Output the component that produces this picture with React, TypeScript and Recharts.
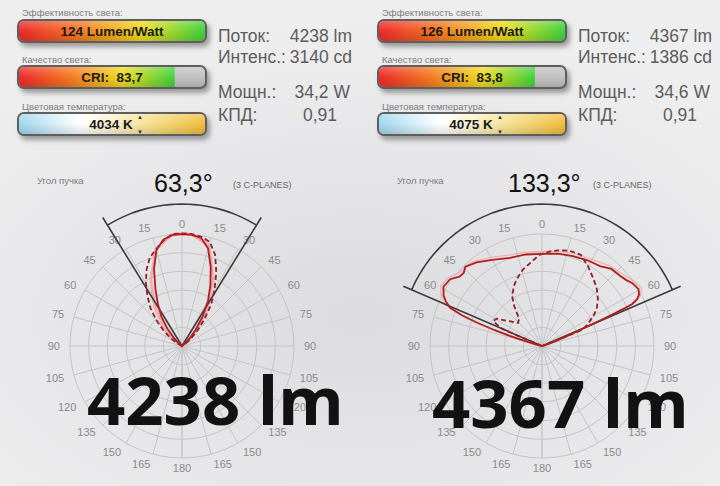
import React from "react";
import {
  RadarChart,
  Radar,
  PolarGrid,
  PolarAngleAxis,
  PolarRadiusAxis,
  BarChart,
  Bar,
  XAxis,
  YAxis,
} from "recharts";

// report values: [left luminaire, right luminaire]
const beamAngle = [63.3, 133.3];
const fluxLm = [4238, 4367];
const maxIntensityCd = [3140, 1386];
const powerW = [34.2, 34.6];
const lorValue = [0.91, 0.91];
const efficacyLmW = [124, 126];
const criValue = [83.7, 83.8];
const cctK = [4034, 4075];

// candela per grid ring (6 rings on each diagram)
const ringCd = [520, 225];

// light distribution, angle in degrees (0 = top, + = clockwise), intensity in cd
const leftSolidAngle = [-60, -50, -45, -40, -35, -30, -25, -20, -15, -10, -5, 0, 5, 10, 15, 20, 25, 30, 35, 40, 45, 50, 60];
const leftSolidCd = [0, 140, 330, 640, 1000, 1340, 1750, 2280, 2760, 3010, 3100, 3120, 3110, 3060, 2810, 2340, 1870, 1450, 1000, 590, 310, 110, 0];

const leftDashedAngle = [-70, -60, -55, -50, -45, -40, -35, -30, -25, -20, -15, -10, -5, 0, 5, 10, 15, 20, 25, 30, 35, 40, 45, 50, 55, 60];
const leftDashedCd = [0, 170, 390, 670, 1000, 1360, 1670, 2010, 2340, 2620, 2790, 2980, 3130, 3140, 3130, 3090, 3000, 2700, 2260, 1810, 1420, 970, 610, 330, 140, 0];

const leftPinkAngle = [-65, -55, -45, -35, -25, -15, -5, 0, 5, 15, 25, 35, 45, 55, 65];
const leftPinkCd = [0, 280, 700, 1330, 2060, 2790, 3120, 3130, 3120, 2900, 2060, 1220, 470, 120, 0];

const rightSolidAngle = [-85, -77, -74, -72.6, -71.5, -70.3, -69, -67.4, -65, -63, -59, -54, -50, -47, -44, -38, -30, -20, -10, 0, 10, 19, 28, 36, 42, 48, 52, 55, 59.5, 62, 63.7, 65, 65.5, 66, 66.5, 67, 68, 70, 74, 80];
const rightSolidCd = [0, 70, 220, 400, 600, 830, 1040, 1200, 1280, 1330, 1386, 1370, 1300, 1290, 1330, 1280, 1200, 1130, 1120, 1110, 1130, 1145, 1170, 1190, 1250, 1265, 1290, 1325, 1350, 1325, 1280, 1200, 1085, 900, 720, 540, 360, 180, 60, 0];

const rightDashedAngle = [-68, -67.5, -67, -66.5, -63, -59, -52, -46, -40, -35, -31, -25, -20, -14, -8, -2, 0, 5, 10, 16, 23, 30, 36, 43, 50, 56, 60, 65, 68, 68.5, 69, 70];
const rightDashedCd = [0, 180, 360, 540, 660, 640, 480, 400, 430, 580, 700, 800, 870, 950, 1010, 1095, 1110, 1145, 1170, 1195, 1195, 1110, 1035, 965, 880, 795, 710, 600, 530, 300, 120, 0];

const rightPinkAngle = [-80, -72, -70, -67, -63, -59, -54, -48, -40, -30, -20, -10, 0, 10, 20, 30, 40, 48, 55, 60, 63, 65, 66, 67, 70, 76];
const rightPinkCd = [0, 560, 950, 1260, 1370, 1420, 1400, 1330, 1320, 1235, 1165, 1150, 1140, 1160, 1180, 1205, 1265, 1300, 1360, 1390, 1330, 1240, 930, 560, 190, 0];

const FONT = "'Liberation Sans', Arial, sans-serif";

const toRows = (angles: number[], cd: number[], ring: number) =>
  angles.map((a, i) => ({ angle: a, v: cd[i] / ring }));

// beam angle wedge: two lines from the centre and an arc between them
function buildWedge(beam: number) {
  const half = beam / 2;
  const rows = [
    { angle: 0, v: 0 },
    { angle: half, v: 1 },
    { angle: half, v: 0.94 },
  ];
  for (let a = Math.floor(half / 2.5) * 2.5; a > -half; a -= 2.5) {
    if (a < half) rows.push({ angle: a, v: 0.94 });
  }
  rows.push({ angle: -half, v: 0.94 }, { angle: -half, v: 1 });
  return rows;
}

const fmt = (v: number, d: number) => v.toFixed(d).replace(".", ",");

const renderAngleTick = (p: any) => (
  <text
    x={p.x}
    y={p.y}
    textAnchor={p.textAnchor}
    dominantBaseline="central"
    fontSize={11}
    fontFamily={FONT}
    fill="#8a8a8a"
  >
    {Math.abs(Number(p.payload.value))}
  </text>
);

const CX = 182;
const CY = 346;

type LayerProps = {
  left: number;
  data: { angle: number; v: number }[];
  grid?: boolean;
  outer?: number;
  domainMax?: number;
  stroke: string;
  strokeWidth: number;
  dash?: string;
  opacity?: number;
};

function PolarLayer({ left, data, grid, outer = 112, domainMax = 6, stroke, strokeWidth, dash, opacity = 1 }: LayerProps) {
  return (
    <div style={{ position: "absolute", left, top: 0 }}>
      <RadarChart
        width={360}
        height={486}
        cx={CX}
        cy={CY}
        outerRadius={outer}
        startAngle={270}
        endAngle={-90}
        data={data}
        margin={{ top: 0, right: 0, bottom: 0, left: 0 }}
      >
        {grid && <PolarGrid gridType="circle" stroke="#c4c4c6" strokeWidth={1} />}
        <PolarAngleAxis
          dataKey="angle"
          type="number"
          domain={[-180, 180]}
          allowDataOverflow
          tickCount={25}
          axisLine={false}
          tickLine={false}
          tickSize={10}
          tick={grid ? renderAngleTick : false}
        />
        <PolarRadiusAxis domain={[0, domainMax]} allowDataOverflow tickCount={domainMax + 1} tick={false} axisLine={false} />
        <Radar
          dataKey="v"
          stroke={stroke}
          strokeWidth={strokeWidth}
          strokeDasharray={dash}
          strokeOpacity={opacity}
          fill="none"
          dot={false}
          isAnimationActive={false}
        />
      </RadarChart>
    </div>
  );
}

const effStops = ["#ec2b2b", "#f47a22", "#eedc1e", "#3fd13f"];
const cctStops = ["#9ed6ef", "#ffffff", "#f6e39a", "#f0bd3a"];

function Gauge({
  id,
  value,
  domain,
  stops,
  x,
  y,
}: {
  id: string;
  value: number;
  domain: [number, number | string];
  stops: string[];
  x: number;
  y: number;
}) {
  return (
    <div
      style={{
        position: "absolute",
        left: x,
        top: y,
        width: 190,
        height: 24,
        boxSizing: "border-box",
        border: "2px solid #5e5e5e",
        borderRadius: 7,
        overflow: "hidden",
        background: "#c2c2c2",
        boxShadow: "3px 4px 5px rgba(0,0,0,0.35)",
      }}
    >
      <BarChart
        width={186}
        height={20}
        layout="vertical"
        data={[{ name: id, value }]}
        margin={{ top: 0, right: 0, bottom: 0, left: 0 }}
        barCategoryGap={0}
      >
        <defs>
          <linearGradient id={id} x1="0" y1="0" x2="1" y2="0">
            {stops.map((c, i) => (
              <stop key={i} offset={`${(i / (stops.length - 1)) * 100}%`} stopColor={c} />
            ))}
          </linearGradient>
        </defs>
        <XAxis type="number" domain={domain} hide />
        <YAxis type="category" dataKey="name" hide />
        <Bar dataKey="value" fill={`url(#${id})`} isAnimationActive={false} />
      </BarChart>
      <div
        style={{
          position: "absolute",
          inset: 0,
          background: "linear-gradient(rgba(255,255,255,0.25), rgba(255,255,255,0) 50%, rgba(0,0,0,0.12))",
        }}
      />
    </div>
  );
}

function PanelText({ i, dx }: { i: number; dx: number }) {
  const big = [
    { x: 87, y: 425 },
    { x: 72, y: 428 },
  ][i];
  const title = [154, 148][i];
  const small = { fontSize: 9.5, fill: "#7c7c7c", fontFamily: FONT };
  const info = { fontSize: 17.5, fill: "#5c5c5c", fontFamily: FONT };
  return (
    <g transform={`translate(${dx},0)`}>
      <text x={22} y={15.5} {...small}>Эффективность света:</text>
      <text x={22} y={62.5} {...small}>Качество света:</text>
      <text x={22} y={109.5} {...small}>Цветовая температура:</text>

      <text x={218} y={42} {...info}>Поток:</text>
      <text x={352} y={42} {...info} textAnchor="end">{`${fluxLm[i]} lm`}</text>
      <text x={218} y={63} {...info}>Интенс.:</text>
      <text x={352} y={63} {...info} textAnchor="end">{`${maxIntensityCd[i]} cd`}</text>
      <text x={218} y={98} {...info}>Мощн.:</text>
      <text x={350} y={98} {...info} textAnchor="end">{`${fmt(powerW[i], 1)} W`}</text>
      <text x={218} y={121} {...info}>КПД:</text>
      <text x={337} y={121} {...info} textAnchor="end">{fmt(lorValue[i], 2)}</text>

      <text x={37} y={184} {...small}>Угол пучка</text>
      <text x={title} y={192} fontSize={25} fill="#111" fontFamily={FONT}>{`${fmt(beamAngle[i], 1)}°`}</text>
      <text x={233} y={188} fontSize={9} fill="#666" fontFamily={FONT}>(3 C-PLANES)</text>

      <text
        x={big.x}
        y={big.y}
        fontSize={67}
        fontWeight={700}
        fill="#121212"
        fontFamily="'Open Sans', sans-serif"
      >
        {`${fluxLm[i]} lm`}
      </text>
    </g>
  );
}

function BarLabels({ i, dx }: { i: number; dx: number }) {
  const inBar = { fontSize: 13.5, fontWeight: 700, fill: "#1a1a1a", fontFamily: FONT, textAnchor: "middle" as const };
  return (
    <g transform={`translate(${dx},0)`}>
      <text x={112} y={36} {...inBar}>{`${efficacyLmW[i]} Lumen/Watt`}</text>
      <text x={112} y={82} {...inBar} xmlSpace="preserve">{`CRI:  ${fmt(criValue[i], 1)}`}</text>
      <text x={111} y={129} {...inBar}>{`${cctK[i]} K`}</text>
      <text x={140} y={119} fontSize={6} fill="#333" textAnchor="middle">▲</text>
      <text x={140} y={134} fontSize={6} fill="#333" textAnchor="middle">▼</text>
    </g>
  );
}

const panels = [
  {
    left: 0,
    pinkWidth: 3,
    pink: toRows(leftPinkAngle, leftPinkCd, ringCd[0]),
    dashed: toRows(leftDashedAngle, leftDashedCd, ringCd[0]),
    solid: toRows(leftSolidAngle, leftSolidCd, ringCd[0]),
    wedge: buildWedge(beamAngle[0]),
  },
  {
    left: 360,
    pinkWidth: 1.2,
    pink: toRows(rightPinkAngle, rightPinkCd, ringCd[1]),
    dashed: toRows(rightDashedAngle, rightDashedCd, ringCd[1]),
    solid: toRows(rightSolidAngle, rightSolidCd, ringCd[1]),
    wedge: buildWedge(beamAngle[1]),
  },
];

export default function App() {
  return (
    <div
      style={{
        position: "absolute",
        left: 0,
        top: 0,
        width: 720,
        height: 486,
        overflow: "hidden",
        fontFamily: FONT,
        background:
          "radial-gradient(ellipse 70% 60% at 50% 65%, #dcdcdf 0%, #e6e6e8 55%, #eeeeef 100%)",
      }}
    >
      {panels.map((p, i) => (
        <React.Fragment key={i}>
          <PolarLayer left={p.left} data={p.pink} grid stroke="#f29a9a" strokeWidth={p.pinkWidth} opacity={0.7} />
          <PolarLayer left={p.left} data={p.wedge} outer={151} domainMax={1} stroke="#3c3c3c" strokeWidth={1.6} />
          <PolarLayer left={p.left} data={p.dashed} stroke="#8e1f2c" strokeWidth={1.8} dash="5 3" />
          <PolarLayer left={p.left} data={p.solid} stroke="#b21e1e" strokeWidth={1.8} />
        </React.Fragment>
      ))}
      <svg width={720} height={486} style={{ position: "absolute", left: 0, top: 0 }}>
        <PanelText i={0} dx={0} />
        <PanelText i={1} dx={360} />
      </svg>
      {[0, 1].map((i) => (
        <React.Fragment key={i}>
          <Gauge id={`eff${i}`} value={efficacyLmW[i]} domain={[0, "dataMax"]} stops={effStops} x={17 + 360 * i} y={19} />
          <Gauge id={`cri${i}`} value={criValue[i]} domain={[0, 100]} stops={effStops} x={17 + 360 * i} y={65} />
          <Gauge id={`cct${i}`} value={cctK[i]} domain={[0, "dataMax"]} stops={cctStops} x={17 + 360 * i} y={112} />
        </React.Fragment>
      ))}
      <svg width={720} height={486} style={{ position: "absolute", left: 0, top: 0, pointerEvents: "none" }}>
        <BarLabels i={0} dx={0} />
        <BarLabels i={1} dx={360} />
      </svg>
    </div>
  );
}
